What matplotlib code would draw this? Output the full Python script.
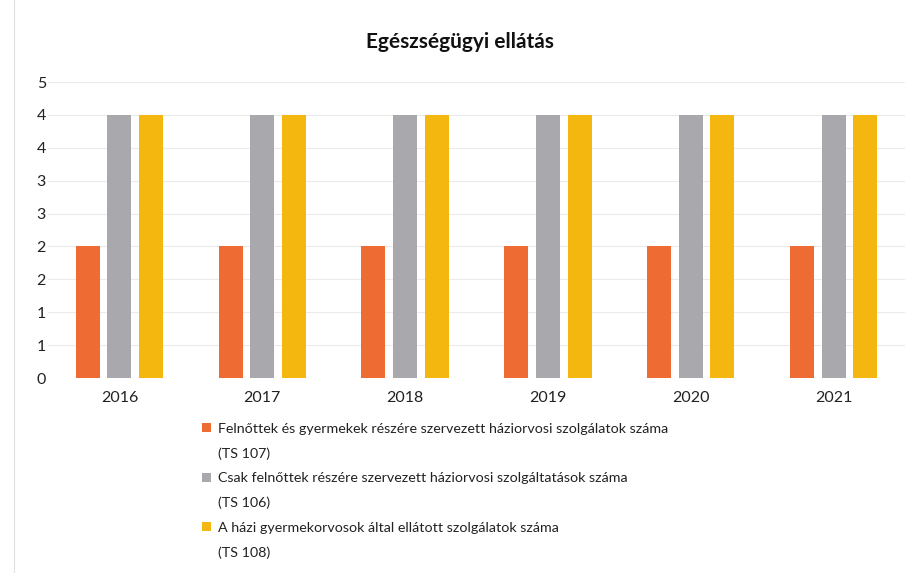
import matplotlib
matplotlib.use("Agg")
import matplotlib.pyplot as plt
import numpy as np
from matplotlib.patches import Rectangle
from matplotlib.lines import Line2D

plt.rcParams['font.family'] = ['Lato', 'DejaVu Sans']

years = ["2016", "2017", "2018", "2019", "2020", "2021"]
ts107 = [2, 2, 2, 2, 2, 2]
ts106 = [4, 4, 4, 4, 4, 4]
ts108 = [4, 4, 4, 4, 4, 4]
series_names = [
    "Felnőttek és gyermekek részére szervezett háziorvosi szolgálatok száma",
    "Csak felnőttek részére szervezett háziorvosi szolgáltatások száma",
    "A házi gyermekorvosok által ellátott szolgálatok száma",
]
series_codes = ["(TS 107)", "(TS 106)", "(TS 108)"]
yticks = [0, 0.5, 1, 1.5, 2, 2.5, 3, 3.5, 4, 4.5]
ytick_labels = ["0", "1", "1", "2", "2", "3", "3", "4", "4", "5"]
title = "Egészségügyi ellátás"

colors = ["#EE6B33", "#A9A9AD", "#F4B70F"]

fig = plt.figure(figsize=(9.14, 5.73), dpi=100)
ax = fig.add_axes([48/914, 1-378/573, (905-48)/914, (378-82)/573])

x = np.arange(len(years))
w = 0.168
off = 0.222
bars = []
for i, (vals, c) in enumerate(zip([ts107, ts106, ts108], colors)):
    b = ax.bar(x + (i-1)*off, vals, width=w, color=c, zorder=3)
    bars.append(b)

ax.set_xlim(-0.5, len(years)-0.5)
ax.set_ylim(0, 4.5)
ax.set_yticks(yticks)
ax.set_yticklabels(ytick_labels)
ax.set_xticks(x)
ax.set_xticklabels(years)
ax.tick_params(axis='both', length=0, labelsize=11.5, colors="#222222")
ax.tick_params(axis='y', pad=1.5)
ax.tick_params(axis='x', pad=9)
ax.grid(axis='y', color="#EBEBEB", linewidth=0.8, zorder=0)
for s in ax.spines.values():
    s.set_visible(False)

fig.text(460/914, 1-42/573, title, ha='center', va='center', fontsize=15, fontweight='bold', color="#111111")

handles, labels = [], []
for b, name, code in zip(bars, series_names, series_codes):
    handles.append(Rectangle((0, 0), 1, 1, facecolor=b.patches[0].get_facecolor(), edgecolor='none'))
    labels.append(name)
    handles.append(Rectangle((0, 0), 1, 1, facecolor='none', edgecolor='none'))
    labels.append(code)

leg = fig.legend(handles, labels, loc='upper left', bbox_to_anchor=(202/914, 1-423/573),
                 frameon=False, fontsize=10.3, handlelength=0.6, handleheight=0.6,
                 handletextpad=0.5, labelspacing=0.87, borderpad=0, borderaxespad=0)
for t in leg.get_texts():
    t.set_color("#222222")

fig.add_artist(Line2D([14/914, 14/914], [0, 1], transform=fig.transFigure, color="#E0E0E0", linewidth=0.8))

fig.savefig("out.png", dpi=100)
